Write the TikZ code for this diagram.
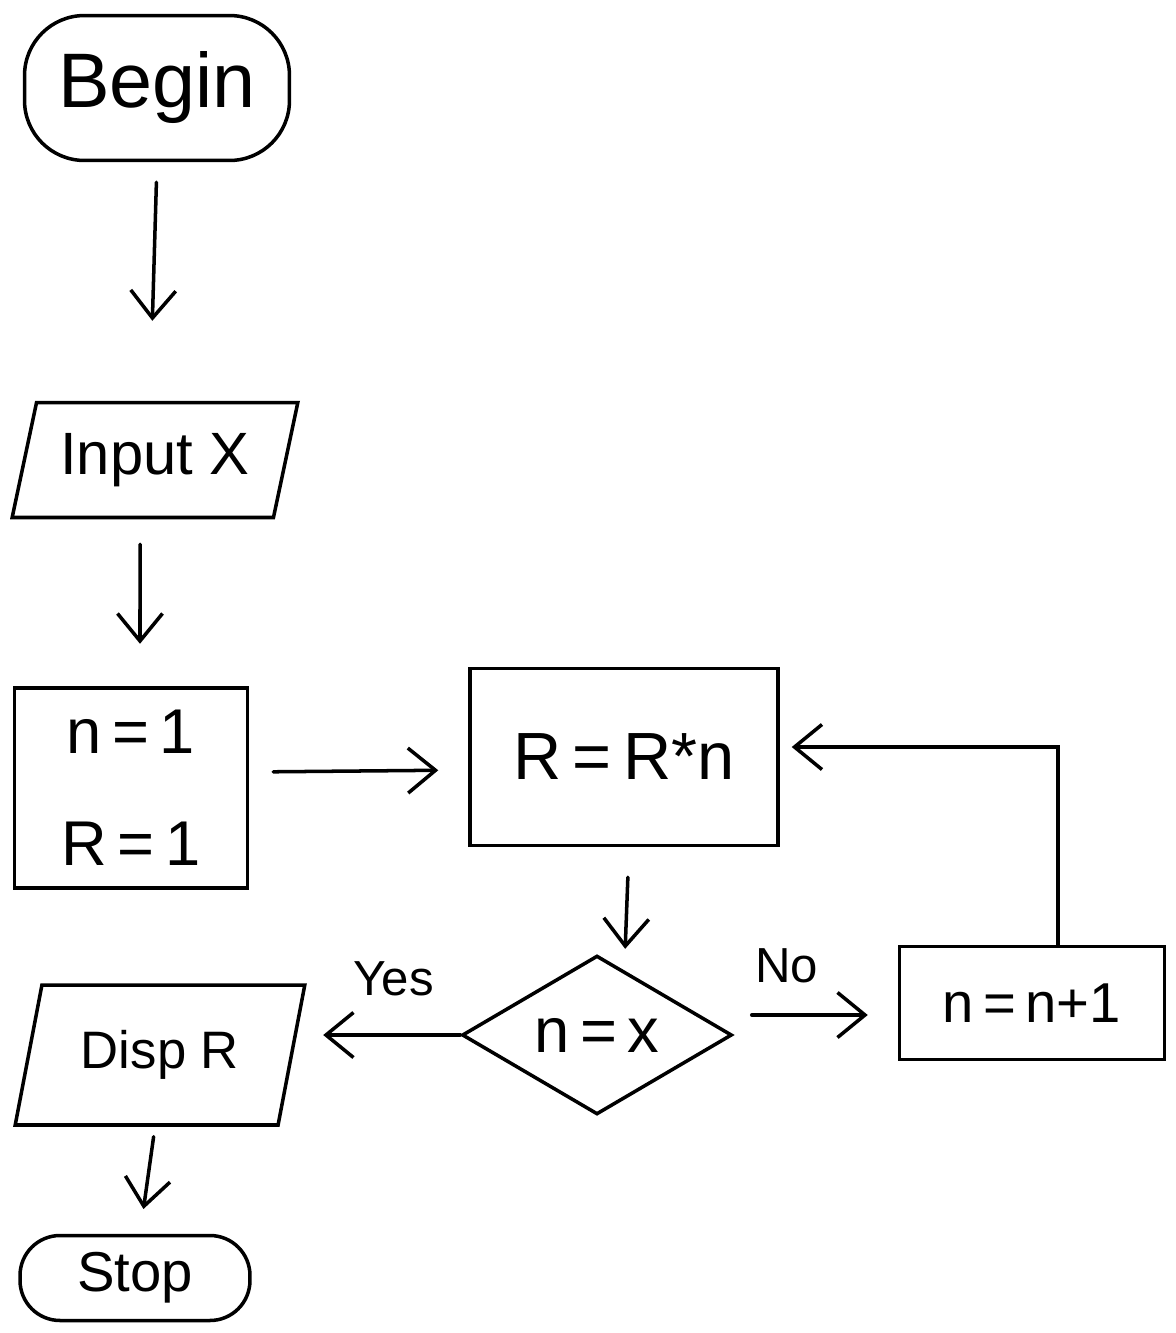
\documentclass[tikz,border=0pt]{standalone}
\usepackage{fontspec}
\setmainfont{Liberation Sans}
\usetikzlibrary{shapes.geometric,arrows.meta,calc}
\begin{document}
\begin{tikzpicture}[x=0.02cm,y=-0.02cm,
  line width=2pt,
  every node/.style={line width=2pt},
  term/.style={draw,rounded corners=1.2cm,inner sep=0pt},
  io/.style={draw,trapezium,trapezium left angle=70,trapezium right angle=110,trapezium stretches=true,inner sep=0pt},
  proc/.style={draw,rectangle,inner sep=0pt},
  dec/.style={draw,diamond,inner sep=0pt},
  arr/.style={-{Straight Barb[length=0.55cm,width=0.9cm,line width=2pt]},line cap=round},
  lbl/.style={font=\fontsize{28}{32}\selectfont}
]
\useasboundingbox (0,0) rectangle (1176,1333);

\node[term,minimum width=5.3cm,minimum height=2.9cm,font=\fontsize{44}{50}\selectfont] (begin) at (157,88) {Begin};
\node[io,minimum width=5.72cm,minimum height=2.3cm,font=\fontsize{34}{40}\selectfont] (input) at (155,460) {Input X};
\node[proc,minimum width=4.66cm,minimum height=4cm,align=center,font=\fontsize{36}{64}\selectfont] (init) at (131,788) {n\,=\,1\\R\,=\,1};
\node[proc,minimum width=6.16cm,minimum height=3.54cm,font=\fontsize{38}{44}\selectfont] (calc) at (624,757) {R\,=\,R*n};
\node[dec,minimum width=5.4cm,minimum height=2.74cm,font=\fontsize{36}{40}\selectfont] (decide) at (597,1035) {n\,=\,x};
\node[proc,minimum width=5.3cm,minimum height=2.26cm,font=\fontsize{32}{36}\selectfont] (incr) at (1032,1003) {n\,=\,n+1};
\node[io,minimum width=5.8cm,minimum height=2.8cm,font=\fontsize{30}{36}\selectfont] (disp) at (160,1055) {Disp R};
\node[term,minimum width=4.6cm,minimum height=1.7cm,rounded corners=0.8cm,font=\fontsize{32}{36}\selectfont] (stop) at (135,1278) {Stop};

\draw[arr,shorten <=0.4cm,shorten >=1.6cm] (begin.south) -- ([xshift=-0.1cm]input.north);
\draw[arr,shorten <=0.5cm,shorten >=0.85cm] ([xshift=-0.3cm]input.south) -- ([xshift=0.18cm]init.north);
\draw[arr,shorten <=0.48cm,shorten >=0.6cm] ([yshift=0.32cm]init.east) -- ([yshift=-0.26cm]calc.west);
\draw[arr,shorten <=0.6cm,shorten >=0.1cm] ([xshift=0.1cm]calc.south) -- ([xshift=0.56cm]decide.north);
\draw[arr] ($(decide.east)+(18,-20)$) -- node[lbl,above=14pt,pos=0.3] (nolbl) {No} ($(incr.west)+(-30,12)$);
\draw[arr,shorten >=0.24cm] ([xshift=0.52cm]incr.north) |- ([yshift=0.2cm]calc.east);
\draw[arr,shorten >=0.6cm] (decide.west) -- node[lbl,above=18pt,pos=0.4] (yeslbl) {Yes} (decide.west -| disp.east);
\draw[arr,shorten <=0.2cm,shorten >=0.5cm] ([xshift=-0.1cm]disp.south) -- ([xshift=0.1cm]stop.north);
\end{tikzpicture}
\end{document}
